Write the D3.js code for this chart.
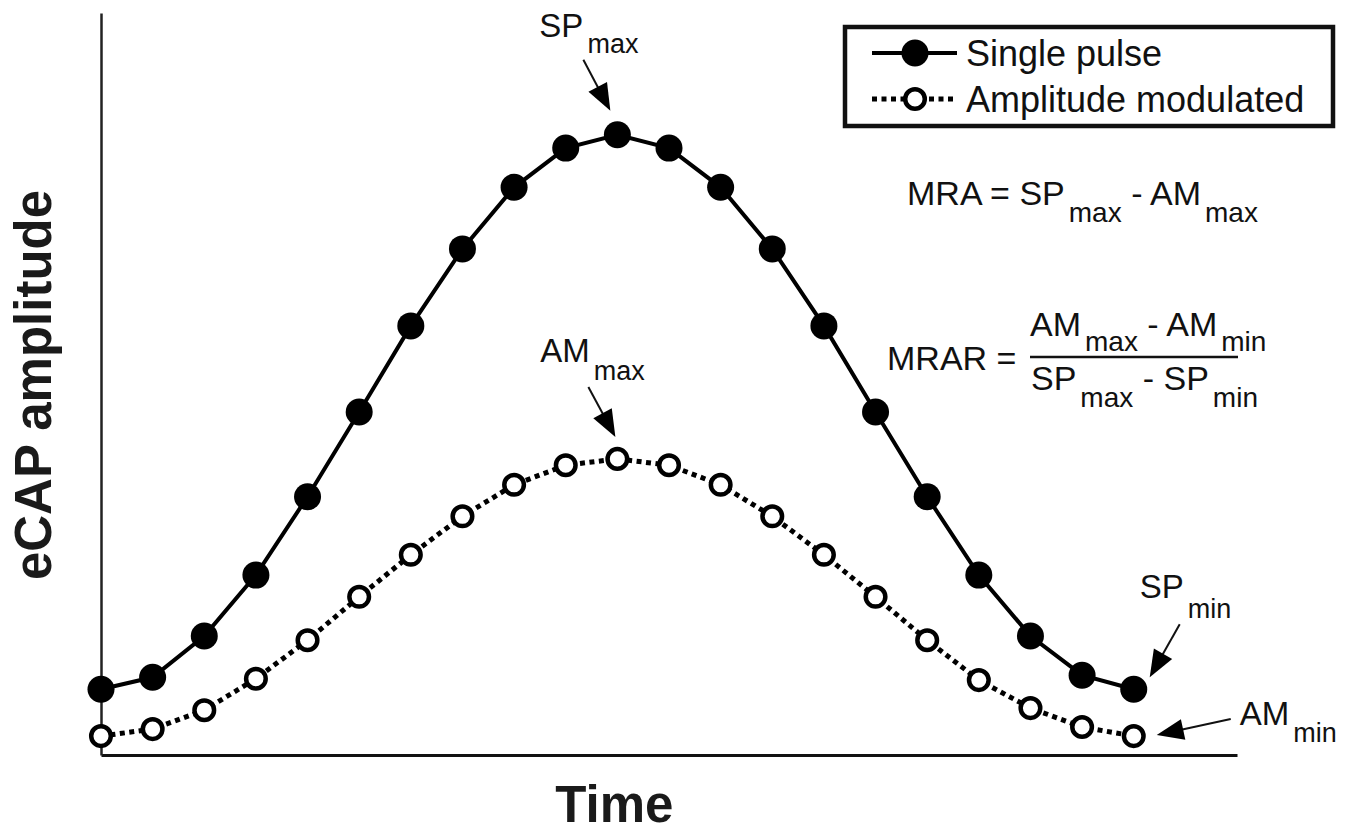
<!DOCTYPE html>
<html>
<head>
<meta charset="utf-8">
<script src="https://cdn.jsdelivr.net/npm/d3@7"></script>
<style>
  html, body { margin: 0; padding: 0; background: #fff; }
  svg { display: block; font-family: "Liberation Sans", Arial, Helvetica, sans-serif; }
</style>
</head>
<body>
<svg id="chart" width="1357" height="832"></svg>
<script>
// ---- Data (arbitrary amplitude units) ----
const timeIndex = [0,1,2,3,4,5,6,7,8,9,10,11,12,13,14,15,16,17,18,19,20];
const singlePulse = [9.4, 11.1, 17.0, 25.7, 36.9, 49.0, 61.3, 72.3, 81.1, 86.7, 88.6,
                     86.7, 81.1, 72.3, 61.3, 49.0, 36.9, 25.7, 17.0, 11.4, 9.4];
const amplitudeModulated = [2.7, 3.7, 6.4, 10.9, 16.4, 22.6, 28.6, 34.1, 38.6, 41.4, 42.3,
                            41.4, 38.6, 34.1, 28.6, 22.6, 16.4, 10.7, 6.7, 4.0, 2.7];
const seriesNames = ["Single pulse", "Amplitude modulated"];
const axisLabels = { x: "Time", y: "eCAP amplitude" };

// ---- Layout ----
const svg = d3.select("#chart");
const x = d3.scaleLinear().domain([0, 22]).range([101, 1237]);
const y = d3.scaleLinear().domain([0, 106]).range([755, 13]);

// Axes (no ticks)
svg.append("g").attr("transform", `translate(0,${y(0)})`)
  .call(d3.axisBottom(x).ticks(0).tickSizeOuter(0))
  .call(g => g.select(".domain").attr("stroke", "#111").attr("stroke-width", 3));
svg.append("g").attr("transform", `translate(${x(0)},0)`)
  .call(d3.axisLeft(y).ticks(0).tickSizeOuter(0))
  .call(g => g.select(".domain").attr("stroke", "#222").attr("stroke-width", 2.5));

// Axis titles
svg.append("text").attr("x", x(10) - 3).attr("y", 822)
  .attr("text-anchor", "middle").attr("font-weight", "bold").attr("font-size", 51)
  .attr("fill", "#1a1a1a").text(axisLabels.x);
svg.append("text").attr("transform", `translate(51,385) rotate(-90)`)
  .attr("text-anchor", "middle").attr("font-weight", "bold").attr("font-size", 51)
  .attr("fill", "#1a1a1a").text(axisLabels.y);

// Lines
const line = d3.line().x((d, i) => x(timeIndex[i])).y(d => y(d));
svg.append("path").datum(amplitudeModulated).attr("d", line)
  .attr("fill", "none").attr("stroke", "#000").attr("stroke-width", 5)
  .attr("stroke-dasharray", "5,4.5");
svg.append("path").datum(singlePulse).attr("d", line)
  .attr("fill", "none").attr("stroke", "#000").attr("stroke-width", 4);

// Markers
svg.append("g").selectAll("circle").data(amplitudeModulated).join("circle")
  .attr("cx", (d, i) => x(timeIndex[i])).attr("cy", d => y(d)).attr("r", 9.8)
  .attr("fill", "#fff").attr("stroke", "#000").attr("stroke-width", 4.5);
svg.append("g").selectAll("circle").data(singlePulse).join("circle")
  .attr("cx", (d, i) => x(timeIndex[i])).attr("cy", d => y(d)).attr("r", 13.5)
  .attr("fill", "#000");

// Legend
const lg = svg.append("g");
lg.append("rect").attr("x", 845).attr("y", 27).attr("width", 488).attr("height", 99)
  .attr("fill", "#fff").attr("stroke", "#111").attr("stroke-width", 4.5);
lg.append("line").attr("x1", 872).attr("x2", 957).attr("y1", 53).attr("y2", 53)
  .attr("stroke", "#000").attr("stroke-width", 4);
lg.append("circle").attr("cx", 915).attr("cy", 53).attr("r", 13.5).attr("fill", "#000");
lg.append("line").attr("x1", 872).attr("x2", 957).attr("y1", 99).attr("y2", 99)
  .attr("stroke", "#000").attr("stroke-width", 5).attr("stroke-dasharray", "5,4.5");
lg.append("circle").attr("cx", 915).attr("cy", 99).attr("r", 9.8)
  .attr("fill", "#fff").attr("stroke", "#000").attr("stroke-width", 4.5);
lg.append("text").attr("x", 966).attr("y", 66).attr("font-size", 36).attr("fill", "#111").text(seriesNames[0]);
lg.append("text").attr("x", 966).attr("y", 112).attr("font-size", 36).attr("fill", "#111").text(seriesNames[1]);

// Helper: text with subscripts. parts: [[text, isSub], ...]
function subText(g, xPos, yPos, parts, main, sub, shift) {
  const t = g.append("text").attr("x", xPos).attr("y", yPos).attr("fill", "#111");
  let prevSub = false;
  parts.forEach(([s, isSub]) => {
    const ts = t.append("tspan").text(s).attr("font-size", isSub ? sub : main);
    if (isSub && !prevSub) ts.attr("dy", shift).attr("dx", 4);
    if (!isSub && prevSub) ts.attr("dy", -shift);
    prevSub = isSub;
  });
  return t;
}

// Arrow helper
function arrow(g, x1, y1, x2, y2) {
  const L = Math.hypot(x2 - x1, y2 - y1), ux = (x2 - x1) / L, uy = (y2 - y1) / L;
  const hl = 27, hw = 10.5;
  const bx = x2 - ux * hl, by = y2 - uy * hl;
  g.append("line").attr("x1", x1).attr("y1", y1).attr("x2", bx + ux * 2).attr("y2", by + uy * 2)
    .attr("stroke", "#111").attr("stroke-width", 2);
  g.append("path").attr("d",
    `M${x2},${y2}L${bx - uy * hw},${by + ux * hw}L${bx + uy * hw},${by - ux * hw}Z`)
    .attr("fill", "#000");
}

const ann = svg.append("g");
const peakI = singlePulse.indexOf(d3.max(singlePulse));
const lastI = timeIndex.length - 1;
const spMax = [x(timeIndex[peakI]), y(singlePulse[peakI])];
const amMax = [x(timeIndex[peakI]), y(amplitudeModulated[peakI])];
const spMin = [x(timeIndex[lastI]), y(singlePulse[lastI])];
const amMin = [x(timeIndex[lastI]), y(amplitudeModulated[lastI])];

subText(ann, spMax[0] - 78, spMax[1] - 98, [["SP", false], ["max", true]], 33, 27, 16);
arrow(ann, spMax[0] - 34, spMax[1] - 75, spMax[0] - 7, spMax[1] - 24);
subText(ann, amMax[0] - 77, amMax[1] - 97, [["AM", false], ["max", true]], 33, 27, 18);
arrow(ann, amMax[0] - 29, amMax[1] - 72, amMax[0] - 2, amMax[1] - 22);
subText(ann, spMin[0] + 6, spMin[1] - 91, [["SP", false], ["min", true]], 33, 27, 20);
arrow(ann, spMin[0] + 46, spMin[1] - 65, spMin[0] + 16, spMin[1] - 12);
subText(ann, amMin[0] + 106, amMin[1] - 11, [["AM", false], ["min", true]], 33, 27, 17);
arrow(ann, amMin[0] + 97, amMin[1] - 17, amMin[0] + 23, amMin[1] - 1);

// Formulas
subText(ann, 907, 205, [["MRA = SP", false], ["max", true], [" - AM", false], ["max", true]], 34, 28, 17);
ann.append("text").attr("x", 887).attr("y", 370).attr("font-size", 34).attr("fill", "#111").text("MRAR =");
ann.append("line").attr("x1", 1030).attr("x2", 1238).attr("y1", 357).attr("y2", 357)
  .attr("stroke", "#111").attr("stroke-width", 2.5);
subText(ann, 1030, 336, [["AM", false], ["max", true], [" - AM", false], ["min", true]], 34, 28, 15);
subText(ann, 1031, 390, [["SP", false], ["max", true], [" - SP", false], ["min", true]], 34, 28, 17);
</script>
</body>
</html>
